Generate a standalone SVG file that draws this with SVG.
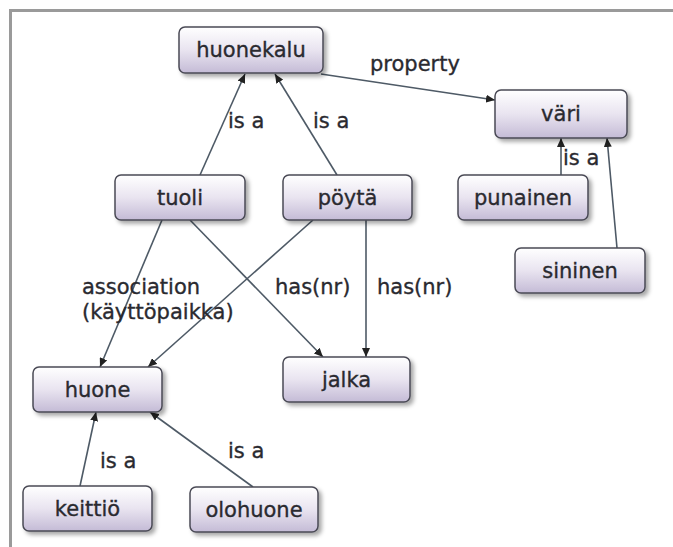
<svg xmlns="http://www.w3.org/2000/svg" width="673" height="547" viewBox="0 0 673 547">
<style>
.box{fill:url(#g);stroke:#4a4a55;stroke-width:1.5;filter:url(#sh)}
.t{font-family:"DejaVu Sans",sans-serif;font-size:21px;fill:#2a2a30;stroke:#2a2a30;stroke-width:0.35;text-anchor:middle}
.l{font-family:"DejaVu Sans",sans-serif;font-size:21px;fill:#2a2a30;stroke:#2a2a30;stroke-width:0.35}
.c{stroke:#4e5a66;stroke-width:1.6;fill:none;marker-end:url(#a)}
</style>
<defs>
<linearGradient id="g" x1="0" y1="0" x2="0" y2="1">
<stop offset="0" stop-color="#ffffff"/>
<stop offset="0.5" stop-color="#e9e4f0"/>
<stop offset="1" stop-color="#c4bbd6"/>
</linearGradient>
<filter id="sh" x="-10%" y="-10%" width="130%" height="140%">
<feDropShadow dx="3" dy="3" stdDeviation="2" flood-color="#000" flood-opacity="0.35"/>
</filter>
<marker id="a" markerWidth="10" markerHeight="8" refX="9" refY="4" orient="auto" markerUnits="userSpaceOnUse">
<path d="M0,0 L9,4 L0,8 Z" fill="#222"/>
</marker>
</defs>
<rect width="673" height="547" fill="#fff"/>
<path d="M10.5,547 V10.5 H673" fill="none" stroke="#9a9a9a" stroke-width="3"/>
<g id="connectors">
<line class="c" x1="200" y1="175" x2="245" y2="74"/>
<line class="c" x1="337" y1="175" x2="275" y2="74"/>
<line class="c" x1="321" y1="74" x2="495" y2="100"/>
<line class="c" x1="561" y1="175" x2="561" y2="138"/>
<line class="c" x1="617" y1="248" x2="607" y2="138"/>
<line class="c" x1="162" y1="220" x2="100" y2="367"/>
<line class="c" x1="313" y1="220" x2="148" y2="367"/>
<line class="c" x1="190" y1="220" x2="323" y2="357"/>
<line class="c" x1="366" y1="220" x2="366" y2="357"/>
<line class="c" x1="80" y1="486" x2="96" y2="412"/>
<line class="c" x1="253" y1="487" x2="150" y2="412"/>
<text class="l" x="228" y="128">is a</text>
<text class="l" x="313" y="128">is a</text>
<text class="l" x="370" y="71">property</text>
<text class="l" x="563" y="165">is a</text>
<text class="l" x="82" y="294">association</text>
<text class="l" x="82" y="319">(käyttöpaikka)</text>
<text class="l" x="275" y="294">has(nr)</text>
<text class="l" x="377" y="294">has(nr)</text>
<text class="l" x="100" y="468">is a</text>
<text class="l" x="228" y="458">is a</text>
</g>
<g id="huonekalu"><rect class="box" x="179" y="27" width="144" height="46" rx="6"/><text class="t" x="251" y="57">huonekalu</text></g>
<g id="vari"><rect class="box" x="495" y="90" width="132" height="48" rx="6"/><text class="t" x="561" y="121">väri</text></g>
<g id="tuoli"><rect class="box" x="115" y="175" width="130" height="45" rx="6"/><text class="t" x="180" y="205">tuoli</text></g>
<g id="poyta"><rect class="box" x="283" y="175" width="129" height="45" rx="6"/><text class="t" x="347.5" y="205">pöytä</text></g>
<g id="punainen"><rect class="box" x="458" y="175" width="130" height="45" rx="6"/><text class="t" x="523" y="205">punainen</text></g>
<g id="sininen"><rect class="box" x="515" y="248" width="130" height="45" rx="6"/><text class="t" x="580" y="278">sininen</text></g>
<g id="huone"><rect class="box" x="33" y="367" width="129" height="45" rx="6"/><text class="t" x="97.5" y="397">huone</text></g>
<g id="jalka"><rect class="box" x="283" y="357" width="127" height="45" rx="6"/><text class="t" x="346.5" y="387">jalka</text></g>
<g id="keittio"><rect class="box" x="23" y="486" width="129" height="45" rx="6"/><text class="t" x="87.5" y="516">keittiö</text></g>
<g id="olohuone"><rect class="box" x="190" y="487" width="128" height="45" rx="6"/><text class="t" x="254" y="517">olohuone</text></g>
</svg>
